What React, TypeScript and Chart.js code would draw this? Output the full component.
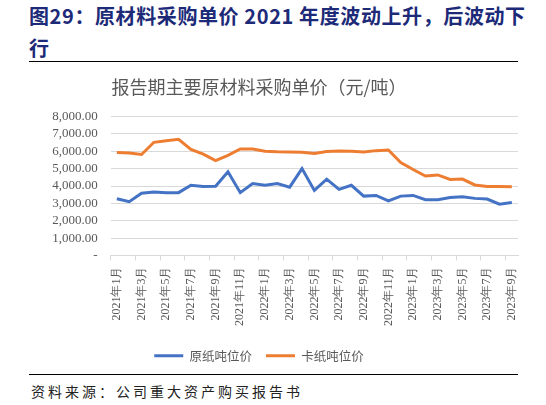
import React, { useEffect, useRef } from "react";
import { Chart, registerables } from "chart.js";

Chart.register(...registerables);

const categories: string[] = [
  "2021年1月", "2021年2月", "2021年3月", "2021年4月", "2021年5月", "2021年6月",
  "2021年7月", "2021年8月", "2021年9月", "2021年10月", "2021年11月", "2021年12月",
  "2022年1月", "2022年2月", "2022年3月", "2022年4月", "2022年5月", "2022年6月",
  "2022年7月", "2022年8月", "2022年9月", "2022年10月", "2022年11月", "2022年12月",
  "2023年1月", "2023年2月", "2023年3月", "2023年4月", "2023年5月", "2023年6月",
  "2023年7月", "2023年8月", "2023年9月",
];

const rawPaperPrice: number[] = [
  3270, 3100, 3585, 3660, 3620, 3620, 4045, 3970, 3990, 4820, 3620, 4140,
  4045, 4140, 3935, 5005, 3750, 4395, 3805, 4045, 3420, 3460, 3140, 3420,
  3460, 3215, 3215, 3345, 3380, 3290, 3250, 2955, 3050,
];

const boardPaperPrice: number[] = [
  5930, 5900, 5820, 6520, 6615, 6690, 6115, 5840, 5470, 5765, 6135, 6135,
  6005, 5970, 5960, 5940, 5875, 5985, 6025, 6000, 5960, 6040, 6080, 5360,
  4950, 4580, 4640, 4380, 4400, 4065, 3975, 3975, 3955,
];

const seriesNames: string[] = ["原纸吨位价", "卡纸吨位价"];
const yTicks: number[] = [0, 1000, 2000, 3000, 4000, 5000, 6000, 7000, 8000];

const chartTitle = "报告期主要原材料采购单价（元/吨）";
const figTitleLine1 = "图29：原材料采购单价 2021 年度波动上升，后波动下";
const figTitleLine2 = "行";
const sourceText = "资料来源：公司重大资产购买报告书";

const serif = "'Liberation Serif', 'DejaVu Serif', serif";

export default function App() {
  const canvasRef = useRef<HTMLCanvasElement | null>(null);

  useEffect(() => {
    if (!canvasRef.current) return;
    const gray = "#595959";
    const chart = new Chart(canvasRef.current, {
      type: "line",
      data: {
        labels: categories,
        datasets: [
          {
            label: seriesNames[0],
            data: rawPaperPrice,
            borderColor: "#4472C4",
            backgroundColor: "#4472C4",
            borderWidth: 3,
            pointRadius: 0,
            tension: 0,
          },
          {
            label: seriesNames[1],
            data: boardPaperPrice,
            borderColor: "#ED7D31",
            backgroundColor: "#ED7D31",
            borderWidth: 3,
            pointRadius: 0,
            tension: 0,
          },
        ],
      },
      options: {
        animation: false,
        responsive: false,
        maintainAspectRatio: false,
        layout: { padding: { left: 0, right: 28, top: 0, bottom: 0 } },
        plugins: {
          title: {
            display: true,
            text: chartTitle,
            color: gray,
            font: { family: "'Noto Sans CJK SC'", size: 18, weight: "normal" },
            padding: { top: 10, bottom: 19 },
          },
          legend: {
            display: true,
            position: "bottom",
            labels: {
              color: gray,
              font: { family: "'Noto Sans CJK SC'", size: 12.5 },
              boxWidth: 29,
              boxHeight: 3,
              padding: 14,
              generateLabels: (c: any) =>
                Chart.defaults.plugins.legend.labels
                  .generateLabels(c)
                  .map((l: any) => ({ ...l, lineWidth: 0 })),
            },
          },
          tooltip: { enabled: false },
        },
        scales: {
          x: {
            type: "category",
            offset: true,
            grid: {
              display: true,
              offset: true,
              drawOnChartArea: false,
              drawTicks: true,
              tickLength: 5,
              color: (ctx: any) => (ctx.index % 2 === 0 ? "#d9d9d9" : "rgba(0,0,0,0)"),
            },
            border: { display: true, color: "#d9d9d9" },
            ticks: {
              autoSkip: false,
              maxRotation: 90,
              minRotation: 90,
              padding: 6,
              color: gray,
              font: { family: serif, size: 12 },
              callback: (_v: any, i: number) => (i % 2 === 0 ? categories[i] : ""),
            },
            afterFit: (s: any) => {
              s.height = 80;
            },
          },
          y: {
            min: 0,
            max: 8000,
            afterBuildTicks: (s: any) => {
              s.ticks = yTicks.map((v) => ({ value: v }));
            },
            grid: { color: "#d9d9d9", drawTicks: false, lineWidth: 1 },
            border: { display: false },
            ticks: {
              autoSkip: false,
              padding: 13,
              color: gray,
              font: { family: serif, size: 13 },
              callback: (v: any) =>
                Number(v) === 0
                  ? "-"
                  : Number(v).toLocaleString("en-US", {
                      minimumFractionDigits: 2,
                      maximumFractionDigits: 2,
                    }),
            },
            afterFit: (s: any) => {
              s.width = 110.7;
            },
          },
        },
      },
    });
    return () => chart.destroy();
  }, []);

  return (
    <div
      style={{
        position: "fixed",
        left: 0,
        top: 0,
        width: 546,
        height: 405,
        background: "#fff",
        overflow: "hidden",
      }}
    >
      <div
        style={{
          position: "absolute",
          left: 29,
          top: 0,
          width: 520,
          color: "#1c2a78",
          fontFamily: "'Noto Sans CJK SC', sans-serif",
          fontWeight: 700,
          fontSize: 20,
          letterSpacing: 0.6,
          lineHeight: "32px",
          whiteSpace: "pre",
        }}
      >
        {figTitleLine1}
        <br />
        {figTitleLine2}
      </div>
      <div
        style={{
          position: "absolute",
          left: 29,
          top: 61,
          width: 489,
          height: 0,
          borderTop: "1.5px solid #000",
        }}
      />
      <canvas
        ref={canvasRef}
        width={546}
        height={306}
        style={{ position: "absolute", left: 0, top: 66, width: 546, height: 306 }}
      />
      <div
        style={{
          position: "absolute",
          left: 29,
          top: 374,
          width: 489,
          height: 0,
          borderTop: "1px solid #000",
        }}
      />
      <div
        style={{
          position: "absolute",
          left: 31,
          top: 381,
          color: "#222",
          fontFamily: "'Noto Sans CJK SC', sans-serif",
          fontSize: 14,
          letterSpacing: 3,
          lineHeight: "20px",
          whiteSpace: "nowrap",
        }}
      >
        {sourceText}
      </div>
    </div>
  );
}
